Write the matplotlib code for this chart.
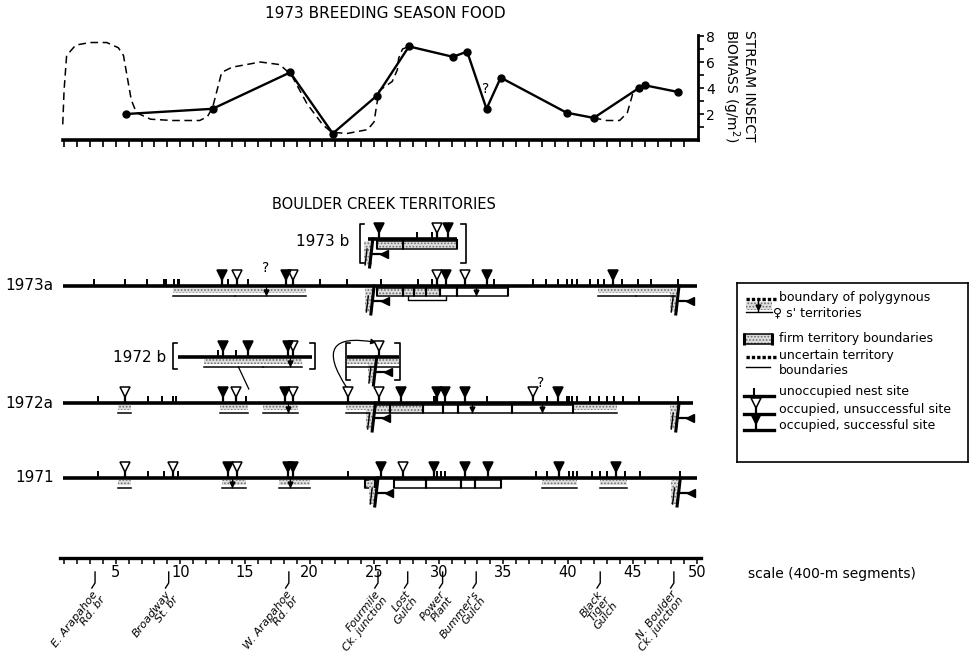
import matplotlib
matplotlib.use('Agg')
import matplotlib.pyplot as plt
from matplotlib.patches import Rectangle, FancyArrowPatch

plt.rcParams['font.family'] = ['DejaVu Sans']
plt.rcParams['hatch.linewidth'] = 0.8

W, H = 972, 662

# ---- 1973 food: stream insect biomass (segment, g/m2)
food_seg = [5.8, 12.5, 18.5, 21.8, 25.2, 27.7, 31.1, 32.2, 33.7, 34.8, 39.9, 42.0, 45.5, 46.0, 48.5]
food_val = [2.0, 2.4, 5.2, 0.5, 3.4, 7.2, 6.4, 6.8, 2.4, 4.8, 2.1, 1.7, 4.0, 4.2, 3.7]

# dashed outline
dash1_seg = [0.9, 1.0, 1.2, 1.9, 3.0, 4.3, 5.2, 5.6, 5.9, 6.2, 6.6, 7.7, 9.4, 11.5, 12.1, 12.5,
             13.2, 14.0, 16.2, 17.7, 18.6, 19.8, 21.0, 21.7, 22.9, 24.5, 25.0, 25.2, 25.4, 26.4,
             26.8, 26.9, 27.2, 27.7]
dash1_val = [1.2, 3.8, 6.5, 7.3, 7.5, 7.5, 7.1, 6.5, 4.8, 3.1, 2.1, 1.6, 1.5, 1.5, 1.8, 2.5,
             5.2, 5.6, 6.0, 5.8, 5.0, 2.8, 1.2, 0.6, 0.5, 0.8, 1.4, 2.7, 3.8, 4.5,
             5.4, 6.3, 7.0, 7.2]
dash2_seg = [42.0, 43.0, 44.0, 44.6, 45.0, 45.4, 45.6]
dash2_val = [1.7, 1.5, 1.5, 2.1, 3.5, 4.0, 4.1]

# ---- territories, nest sites by segment
empty_73a = [3.3, 5.7, 7.4, 8.7, 8.9, 9.5, 9.8, 9.9, 13.7, 15.2, 20.8, 22.9, 25.5, 28.4, 29.5,
             34.3, 37.3, 38.3, 39.2, 39.9, 40.3, 40.7, 41.7, 42.3, 42.8, 44.2, 45.4, 46.4, 48.5]
open_73a = [14.4, 18.7, 29.9, 32.0]
full_73a = [13.2, 18.2, 30.6, 33.7, 43.5]
unsure_73a = [(9.4, 14.2), (14.2, 19.7), (42.3, 45.3), (45.3, 48.3)]
firm_73a = [(25.2, 27.2), (27.2, 28.1), (28.1, 29.0), (29.0, 30.1)]
blank_73a = [(30.1, 31.4), (31.4, 35.4)]
poly_73a = [16.6, 32.9]
fork_73a = [25.0, 48.6]

empty_73b = [28.3, 29.5]
open_73b = [29.9]
full_73b = [25.4, 30.7]
firm_73b = [(25.2, 27.2), (27.2, 31.4)]

empty_72a = [3.6, 7.5, 8.6, 9.4, 9.7, 15.1, 29.6, 29.8, 33.7, 38.4, 39.9, 40.1, 40.3, 40.7,
             41.7, 42.4, 43.0, 43.6, 44.3, 45.5, 48.5]
open_72a = [5.7, 14.3, 18.7, 23.0, 25.4, 37.3]
full_72a = [13.3, 18.1, 27.1, 29.9, 30.5, 32.0, 39.2]
unsure_72a = [(5.2, 6.2), (13.1, 15.2), (16.4, 19.1), (22.8, 24.6), (40.4, 43.8)]
firm_72a = [(25.1, 26.2), (26.2, 28.8)]
blank_72a = [(28.8, 30.3), (30.3, 31.5), (31.5, 35.7), (35.7, 40.4)]
poly_72a = [18.3, 32.6, 38.0]
fork_72a = [25.1, 48.6]

empty_72b = [12.9, 14.3]
open_72b = [18.7]
full_72b = [13.3, 15.2, 18.3]
unsure_72b = [(11.8, 16.4), (16.4, 19.4)]
poly_72b = [18.5]

empty_71 = [3.6, 7.5, 8.7, 9.8, 23.0, 29.9, 30.2, 30.5, 37.5, 38.4, 40.1, 40.4, 40.7, 41.9,
            42.5, 43.0, 44.4, 45.6, 48.7]
open_71 = [5.7, 9.4, 14.4, 27.2]
full_71 = [13.7, 18.3, 18.7, 25.5, 29.6, 32.0, 33.8, 39.3, 43.7]
unsure_71 = [(5.2, 6.2), (13.2, 15.1), (17.6, 20.0), (38.0, 40.7), (42.5, 44.6)]
firm_71 = [(24.3, 25.1)]
blank_71 = [(26.5, 29.0), (29.0, 31.7), (31.7, 32.8), (32.8, 34.8)]
poly_71 = [14.0, 18.5]
fork_71 = [25.3, 48.7]

# ---- landmarks along the creek
land_seg = [3.4, 9.1, 18.4, 25.3, 27.6, 30.3, 32.9, 42.5, 48.2]
land_name = ['E. Arapahoe\nRd. br', 'Broadway\nSt. br', 'W. Arapahoe\nRd. br',
             'Fourmile\nCk. junction', 'Lost\nGulch', 'Power\nPlant', "Bummer's\nGulch",
             'Black\nTiger\nGulch', 'N. Boulder\nCk. junction']
scale_major = [5, 10, 15, 20, 25, 30, 35, 40, 45, 50]


def box(x0, y0, x1, y1):
    return [x0 / W, 1 - y1 / H, (x1 - x0) / W, (y1 - y0) / H]


def stipple(ax, a, b, y0, y1):
    ax.add_patch(Rectangle((a, y0), b - a, y1 - y0, facecolor='#dedede',
                           edgecolor='#6e6e6e', hatch='.....', lw=0))


def fork(ax, u, base):
    stipple(ax, u - 0.7, u - 0.1, base + 2, base + 26)
    ax.plot([u, u - 0.25], [base, base + 28], color='k', lw=2.2)
    ax.plot([u - 0.45, u - 0.6], [base + 10, base + 26], color='k', lw=1.0)
    ax.plot([u - 0.1, u + 0.8], [base + 15, base + 15], color='k', lw=1.6)
    ax.plot(u + 0.85, base + 15, marker='<', ms=6, color='k')


def nests(ax, base, empty, opened, full):
    ax.vlines(empty, base - 7, base, color='k', lw=1.4)
    ax.vlines(list(opened) + list(full), base - 9, base, color='k', lw=1.6)
    ax.plot(opened, [base - 11] * len(opened), 'v', ls='', ms=6.5,
            mfc='white', mec='k', mew=1.1)
    ax.plot(full, [base - 11] * len(full), 'v', ls='', ms=6.5,
            mfc='k', mec='k', mew=1.1)


def row(ax, base, span, empty, opened, full, firm=(), blank=(), unsure=(),
        poly=(), forks=()):
    for a, b in unsure:
        stipple(ax, a, b, base + 1.5, base + 7)
        ax.plot([a, b], [base + 9.5] * 2, color='k', lw=1.1)
    for a, b in firm:
        stipple(ax, a, b, base + 1.5, base + 9)
    for a, b in list(firm) + list(blank):
        ax.add_patch(Rectangle((a, base + 1.5), b - a, 8, fill=False,
                               edgecolor='k', lw=1.1))
        ax.vlines([a, b], base, base + 9.5, color='k', lw=1.5)
    for u in poly:
        ax.vlines(u, base, base + 9.5, color='k', lw=0.9)
        ax.plot(u, base + 6, 'v', ms=3.5, color='k')
    for u in forks:
        fork(ax, u, base)
    ax.plot(span, [base, base], color='k', lw=2.6, solid_capstyle='butt')
    nests(ax, base, empty, opened, full)


def bracket(ax, a, b, top, bot):
    ax.plot([a + 0.35, a, a, a + 0.35], [top, top, bot, bot], color='k', lw=1.2)
    ax.plot([b - 0.35, b, b, b - 0.35], [top, top, bot, bot], color='k', lw=1.2)


fig = plt.figure(figsize=(W / 100, H / 100), dpi=100)

# ---------------- food panel
ax = fig.add_axes(box(55, 29, 698, 140))
ax.set_xlim(0.3, 50.07)
ax.set_ylim(0, 8.54)
ax.plot(dash1_seg, dash1_val, color='k', lw=1.1, dashes=(5, 3))
ax.plot(dash2_seg, dash2_val, color='k', lw=1.1, dashes=(5, 3))
ax.plot(food_seg, food_val, '-o', color='k', lw=1.7, ms=5)
ax.text(33.6, 3.6, '?', fontsize=10, ha='center')
for s in ['top', 'left']:
    ax.spines[s].set_visible(False)
ax.spines['bottom'].set_bounds(0.9, 50.07)
ax.spines['bottom'].set_linewidth(2.6)
ax.spines['right'].set_bounds(0, 8.1)
ax.spines['right'].set_linewidth(2)
ax.set_xticks(range(1, 50))
ax.tick_params(axis='x', direction='out', length=5, width=1.2, labelbottom=False)
ax.yaxis.tick_right()
ax.set_yticks([2, 4, 6, 8])
ax.set_yticks([1, 3, 5, 7], minor=True)
ax.tick_params(axis='y', which='both', direction='out', length=4, width=1.2,
               labelsize=10, pad=2)
ax.patch.set_alpha(0)

fig.text(385 / W, 1 - 14 / H, '1973 BREEDING SEASON FOOD', ha='center', va='center',
         fontsize=11)
fig.text(738 / W, 1 - 86 / H, 'STREAM INSECT\nBIOMASS (g/m$^2$)', rotation=-90,
         ha='center', va='center', fontsize=10, linespacing=1.0)

# ---------------- territories
fig.text(384 / W, 1 - 205 / H, 'BOULDER CREEK TERRITORIES', ha='center', va='center',
         fontsize=10.5)
at = fig.add_axes(box(55, 215, 701, 520))
at.set_xlim(0.3, 50.3)
at.set_ylim(520, 215)
at.axis('off')

B73b, B73a, B72b, B72a, B71 = 239, 286, 357, 403, 478

row(at, B73a, [0.9, 50.0], empty_73a, open_73a, full_73a, firm=firm_73a,
    blank=blank_73a, unsure=unsure_73a, poly=poly_73a, forks=fork_73a)
at.plot([27.6, 27.6, 30.6, 30.6], [B73a + 10, B73a + 14, B73a + 14, B73a + 10],
        color='k', lw=1.0)
at.text(16.6, B73a - 11, '?', fontsize=10, ha='center', va='bottom')

row(at, B73b, [24.5, 31.4], empty_73b, open_73b, full_73b, firm=firm_73b,
    forks=[24.9])
bracket(at, 23.9, 32.1, B73b - 15, B73b + 24)

row(at, B72a, [0.9, 49.7], empty_72a, open_72a, full_72a, firm=firm_72a,
    blank=blank_72a, unsure=unsure_72a, poly=poly_72a, forks=fork_72a)
at.text(37.9, B72a - 13, '?', fontsize=10, ha='center', va='bottom')

row(at, B72b, [9.8, 20.2], empty_72b, open_72b, full_72b, unsure=unsure_72b,
    poly=poly_72b)
bracket(at, 9.4, 20.4, B72b - 14, B72b + 12)
at.plot([14.5, 15.3], [B72b + 10, B72b + 32], color='k', lw=0.9)

row(at, B72b, [22.9, 26.9], [], [25.4], [], unsure=[(22.9, 26.9)], forks=[25.2])
bracket(at, 22.8, 27.0, B72b - 14, B72b + 23)
at.add_patch(FancyArrowPatch((23.0, B72a - 13), (25.4, B72b - 14),
                             connectionstyle='arc3,rad=-1.2', arrowstyle='-|>',
                             mutation_scale=8, lw=0.9, color='k'))

row(at, B71, [0.9, 50.0], empty_71, open_71, full_71, firm=firm_71,
    blank=blank_71, unsure=unsure_71, poly=poly_71, forks=fork_71)

for txt, u, b in [('1973a', 0.2, B73a), ('1972a', 0.2, B72a), ('1971', 0.2, B71),
                  ('1973 b', 23.1, B73b + 2), ('1972 b', 8.9, B72b)]:
    at.text(u, b, txt, ha='right', va='center', fontsize=11, clip_on=False)

# ---------------- legend
al = fig.add_axes(box(737, 283, 968, 462))
al.set_xlim(737, 968)
al.set_ylim(462, 283)
al.set_xticks([])
al.set_yticks([])
for s in al.spines.values():
    s.set_linewidth(1.2)
lx0, lx1, tx = 742, 776, 779
al.plot([lx0 + 4, lx1], [299, 299], color='k', lw=2.4, dashes=(1, 0.6))
stipple(al, lx0 + 4, lx1 - 4, 302, 310)
al.vlines(758, 299, 312, color='k', lw=1.0)
al.plot(758, 307, 'v', ms=3.5, color='k')
al.plot([lx0 + 4, lx1 - 4], [312, 312], color='k', lw=1.0)
al.text(tx, 298, 'boundary of polygynous', va='center', fontsize=9)
al.text(tx - 6, 313, '\u2640 s\' territories', va='center', fontsize=9)
stipple(al, lx0 + 2, lx1 - 4, 334, 344)
al.add_patch(Rectangle((lx0 + 2, 334), lx1 - lx0 - 6, 10, fill=False, edgecolor='k', lw=1.1))
al.vlines([lx0 + 2, lx1 - 4], 333, 345, color='k', lw=2.2)
al.text(tx, 339, 'firm territory boundaries', va='center', fontsize=9)
al.plot([lx0 + 4, lx1], [357, 357], color='k', lw=2.4, dashes=(1, 0.6))
al.plot([lx0 + 4, lx1 - 6], [367, 367], color='k', lw=1.0)
al.text(tx, 356, 'uncertain territory', va='center', fontsize=9)
al.text(tx, 371, 'boundaries', va='center', fontsize=9)
for yy, kind, label in [(396, 'empty', 'unoccupied nest site'),
                        (414, 'open', 'occupied, unsuccessful site'),
                        (430, 'full', 'occupied, successful site')]:
    al.plot([lx0 + 2, lx1 - 2], [yy, yy], color='k', lw=2.4)
    if kind == 'empty':
        al.vlines(754, yy - 8, yy, color='k', lw=1.5)
    else:
        al.vlines(756, yy - 9, yy, color='k', lw=1.6)
        al.plot(756, yy - 11, 'v', ms=6.5, mec='k', mew=1.1,
                mfc='white' if kind == 'open' else 'k')
    al.text(tx, yy - 4, label, va='center', fontsize=9)

# ---------------- scale and landmarks
asc = fig.add_axes(box(55, 540, 701, 662))
asc.set_xlim(0.3, 50.3)
asc.set_ylim(662, 540)
for s in ['top', 'left', 'right']:
    asc.spines[s].set_visible(False)
asc.spines['bottom'].set_position(('data', 558))
asc.spines['bottom'].set_bounds(0.7, 50.3)
asc.spines['bottom'].set_linewidth(2.4)
asc.set_yticks([])
asc.set_xticks(scale_major)
asc.set_xticks(range(1, 51), minor=True)
asc.tick_params(axis='x', which='both', direction='out', length=4, width=1.1)
asc.tick_params(axis='x', labelsize=10.5, pad=1)
asc.patch.set_alpha(0)
for u, name in zip(land_seg, land_name):
    asc.plot([u, u, u - 0.25], [572, 583, 588], color='k', lw=1.0)
    asc.text(u - 0.25, 589, name, rotation=52, rotation_mode='anchor', ha='right',
             va='top', fontsize=8, style='italic', linespacing=0.9)

fig.text(748 / W, 1 - 574 / H, 'scale (400-m segments)', ha='left', va='center',
         fontsize=10)

fig.savefig('out.png', dpi=100)
